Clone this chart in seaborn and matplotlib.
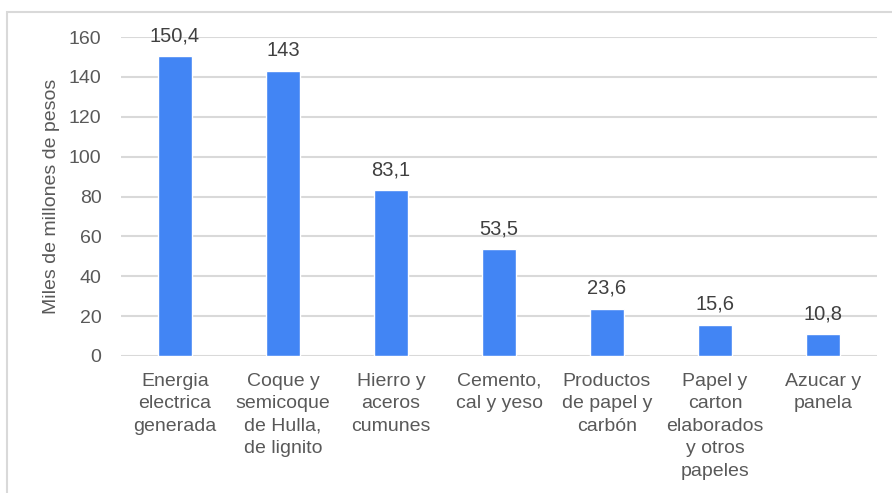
import pandas as pd
import matplotlib
matplotlib.use('Agg')
import matplotlib.pyplot as plt
import seaborn as sns

# Data
categories = ['Energia\nelectrica\ngenerada',
              'Coque y\nsemicoque\nde Hulla,\nde lignito',
              'Hierro y\naceros\ncumunes',
              'Cemento,\ncal y yeso',
              'Productos\nde papel y\ncarbón',
              'Papel y\ncarton\nelaborados\ny otros\npapeles',
              'Azucar y\npanela']
values = [150.4, 143, 83.1, 53.5, 23.6, 15.6, 10.8]
value_labels = ['150,4', '143', '83,1', '53,5', '23,6', '15,6', '10,8']
y_ticks = [0, 20, 40, 60, 80, 100, 120, 140, 160]

df = pd.DataFrame({'Producto': categories, 'Valor': values})

sns.set_style('white')
plt.rcParams['font.family'] = ['Liberation Sans', 'DejaVu Sans']
text_color = '#595959'
grid_color = '#D9D9D9'

fig = plt.figure(figsize=(8.92, 4.93), dpi=100)
ax = fig.add_axes([121 / 892, 1 - 356 / 493, 756 / 892, 319 / 493])

sns.barplot(data=df, x='Producto', y='Valor', color='#4285F4', width=0.315,
            saturation=1, ax=ax, zorder=3)

ax.set_ylim(0, 160)
ax.set_yticks(y_ticks)
ax.set_xlim(-0.5, len(categories) - 0.5)
ax.yaxis.grid(True, color=grid_color, linewidth=1.5, zorder=0)
for s in ax.spines.values():
    s.set_visible(False)
ax.tick_params(axis='both', length=0, labelsize=14, colors=text_color)
ax.tick_params(axis='y', pad=14)
ax.tick_params(axis='x', pad=12)
for lbl in ax.get_xticklabels():
    lbl.set_linespacing(1.43)
ax.set_xlabel('')
ax.set_ylabel('Miles de millones de pesos', fontsize=14, color=text_color, labelpad=6)

# value labels above bars
for i, (v, t) in enumerate(zip(values, value_labels)):
    ax.annotate(t, (i, v), xytext=(0, 8), textcoords='offset points',
                ha='center', va='bottom', fontsize=14.5, color='#404040')

# light border around the chart area
fig.patches.append(plt.Rectangle((7 / 892, -0.1), 1.2, 1 - 12 / 493 + 0.1,
                                 transform=fig.transFigure, fill=False,
                                 edgecolor=grid_color, linewidth=1.5))

plt.savefig('out.png', dpi=100)
